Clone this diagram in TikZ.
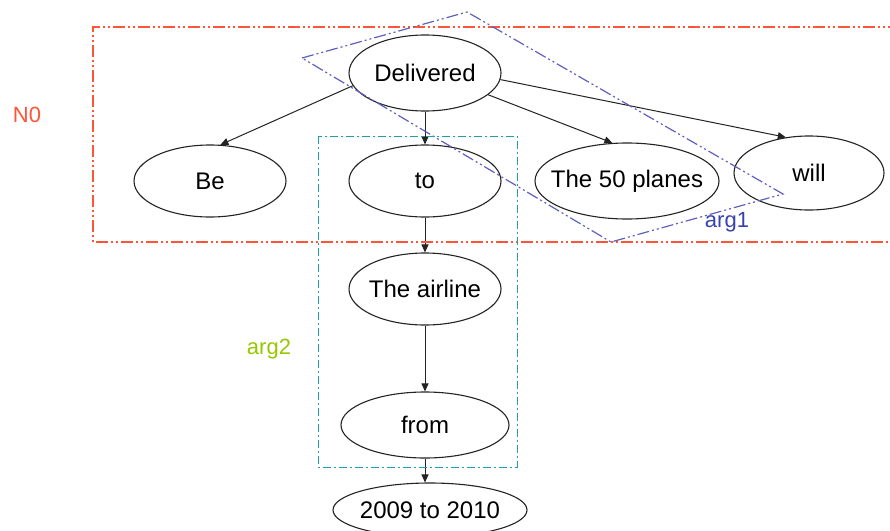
\documentclass[tikz,border=0pt]{standalone}
\usepackage{fontspec}
\setmainfont{Liberation Sans}
\usetikzlibrary{shapes.geometric,arrows.meta}
\definecolor{nored}{RGB}{255,85,55}
\definecolor{argblue}{RGB}{95,95,190}
\definecolor{argbluetxt}{RGB}{55,65,175}
\definecolor{argteal}{RGB}{30,160,170}
\definecolor{arggreen}{RGB}{150,200,0}
\definecolor{edgegray}{RGB}{35,35,35}
\tikzset{
  wnode/.style={ellipse, draw=edgegray, line width=1.1pt, inner xsep=-40pt, inner ysep=-40pt, font=\fontsize{24}{24}\selectfont},
  conn/.style={draw=edgegray, line width=1pt, -{Triangle[length=8pt,width=7pt]}},
  dashdotdot/.style={dash pattern=on 12pt off 3pt on 2pt off 3pt on 2pt off 3pt},
  dashdot/.style={dash pattern=on 8pt off 3pt on 2pt off 3pt},
  lbl/.style={font=\fontsize{22}{22}\selectfont}
}
\begin{document}
\begin{tikzpicture}[x=1pt,y=-1pt]
\useasboundingbox (0,0) rectangle (890,530);
% nodes
\node[wnode, minimum width=152pt, minimum height=76pt] (D) at (425,73) {Delivered};
\node[wnode, minimum width=152pt, minimum height=72pt] (Be) at (210,181) {Be};
\node[wnode, minimum width=152pt, minimum height=72pt] (to) at (425,181) {to};
\node[wnode, minimum width=184pt, minimum height=76pt] (P) at (627,181) {The 50 planes};
\node[wnode, minimum width=150pt, minimum height=74pt] (W) at (809,173) {will};
\node[wnode, minimum width=152pt, minimum height=72pt] (A) at (425,289) {The airline};
\node[wnode, minimum width=168pt, minimum height=66pt] (F) at (425,425) {from};
\node[wnode, minimum width=194pt, minimum height=54pt] (Y) at (430,510) {2009 to 2010};
% connectors
\draw[conn] (D.190) -- (Be.74);
\draw[conn] (D.south) -- (to.north);
\draw[conn] (D.-19) -- (P.111);
\draw[conn] (D.-5) -- (W.123);
\draw[conn] (to.south) -- (A.north);
\draw[conn] (A.south) -- (F.north);
\draw[conn] (F.south) -- (F.south |- Y.north);
% N0 box
\coordinate (n0a) at (900,27);
\coordinate (n0b) at (93,27);
\coordinate (n0c) at (93,242);
\coordinate (n0d) at (900,242);
\draw[nored, line width=1.1pt, dashdotdot] (n0a) -- (n0b) -- (n0c) -- (n0d);
\node[lbl, text=nored] (N0) at (27,115) {N0};
% arg1 diamond
\coordinate (d1) at (302,58);
\coordinate (d2) at (467,12);
\coordinate (d3) at (783,194);
\coordinate (d4) at (611,242);
\draw[argblue, line width=1.2pt, dashdotdot] (d1) -- (d2) -- (d3) -- (d4) -- cycle;
\node[lbl, text=argbluetxt] (arg1) at (727,222) {arg1};
% arg2 box
\coordinate (t1) at (318,136);
\coordinate (t2) at (517,467);
\draw[argteal, line width=1pt, dashdot] (t1) rectangle (t2);
\node[lbl, text=arggreen] (arg2) at (269,349) {arg2};
\end{tikzpicture}
\end{document}
